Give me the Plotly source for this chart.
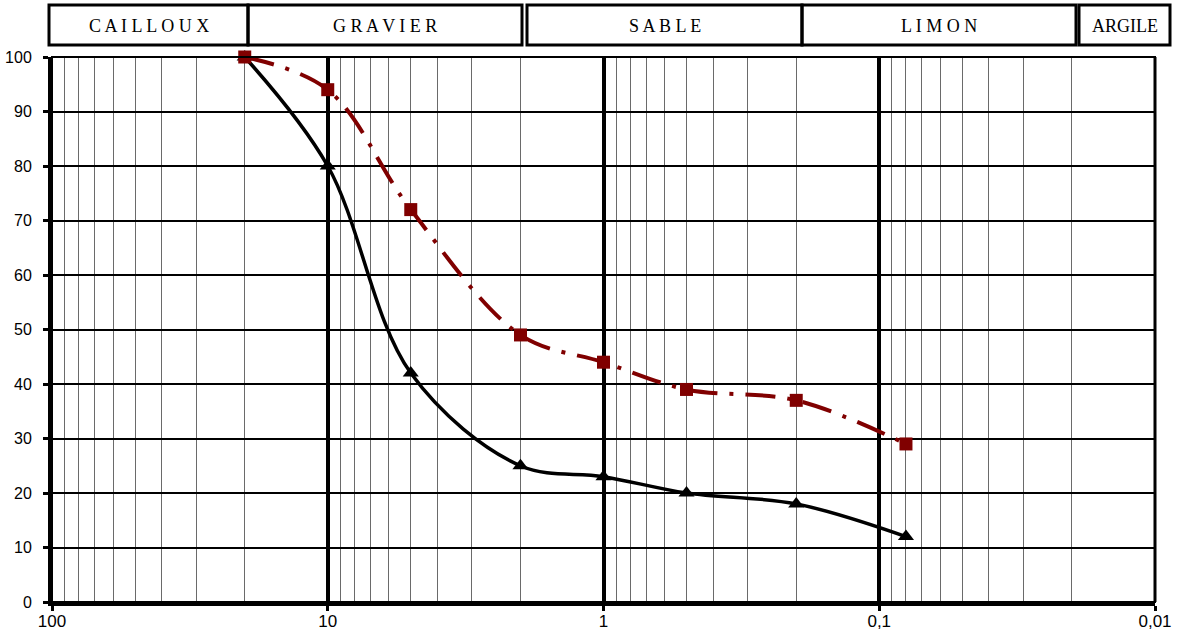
import plotly.graph_objects as go

# ---- data ----
sizes_mm = [20, 10, 5, 2, 1, 0.5, 0.2, 0.08]
passing_black = [100, 80, 42, 25, 23, 20, 18, 12]
passing_red = [100, 94, 72, 49, 44, 39, 37, 29]
major_ticks = [100, 10, 1, 0.1, 0.01]
major_labels = ["100", "10", "1", "0,1", "0,01"]
minor_ticks = [m * 10 ** k for k in (-2, -1, 0, 1) for m in range(2, 10)]
y_ticks = list(range(0, 101, 10))
classes = ["C A I L L O U X", "G R A V I E R", "S A B L E", "L I M O N", "ARGILE"]
class_px = [(49, 248), (248, 522), (527, 802), (802, 1076), (1079, 1170)]

W, H = 1177, 635
L, R, T, B = 52, 22, 57, 33
pw, ph = W - L - R, H - T - B

def px_x(p):
    return (p - L) / pw

def px_y(p):
    return (H - B - p) / ph

fig = go.Figure()

fig.add_trace(go.Scatter(
    x=sizes_mm, y=passing_black, mode="lines+markers",
    line=dict(color="black", width=3.5, shape="spline", smoothing=1),
    marker=dict(symbol="triangle-up", size=14, color="black"),
    showlegend=False, cliponaxis=False))

fig.add_trace(go.Scatter(
    x=sizes_mm, y=passing_red, mode="lines+markers",
    line=dict(color="#800000", width=4, shape="spline", smoothing=1,
              dash="30px,12px,4px,12px"),
    marker=dict(symbol="square", size=13, color="#800000"),
    showlegend=False, cliponaxis=False))

shapes = []
# plot frame
shapes.append(dict(type="rect", xref="paper", yref="paper", x0=0, x1=1, y0=0, y1=1,
                   line=dict(color="black", width=2), layer="above"))
shapes.append(dict(type="line", xref="paper", yref="paper", x0=1, x1=1, y0=0, y1=1,
                   line=dict(color="black", width=3), layer="above"))
# header boxes
for (a, b) in class_px:
    shapes.append(dict(type="rect", xref="paper", yref="paper",
                       x0=px_x(a), x1=px_x(b), y0=px_y(45), y1=px_y(5),
                       line=dict(color="black", width=3)))

annotations = []
for name, (a, b) in zip(classes, class_px):
    annotations.append(dict(xref="paper", yref="paper", x=px_x((a + b) / 2), y=px_y(26),
                            text=name, showarrow=False, xanchor="center", yanchor="middle",
                            font=dict(family="Liberation Serif", size=18, color="black")))

fig.update_layout(
    template="none",
    width=W, height=H, autosize=False,
    margin=dict(l=L, r=R, t=T, b=B, pad=0),
    paper_bgcolor="white", plot_bgcolor="white",
    shapes=shapes, annotations=annotations,
    showlegend=False,
    xaxis=dict(
        type="log", range=[2, -2], automargin=False,
        tickvals=major_ticks, ticktext=major_labels,
        showgrid=True, gridcolor="black", gridwidth=4,
        ticks="outside", ticklen=5, tickwidth=3, tickcolor="black",
        showline=True, linecolor="black", linewidth=4,
        zeroline=False,
        tickfont=dict(family="Liberation Sans", size=17, color="black"),
        ticklabelstandoff=-4,
        minor=dict(tickvals=minor_ticks, showgrid=True, gridcolor="#6a6a6a",
                   gridwidth=1, ticks=""),
    ),
    yaxis=dict(
        range=[0, 100], tickvals=y_ticks, automargin=False,
        showgrid=True, gridcolor="black", gridwidth=2,
        ticks="outside", ticklen=5, tickwidth=3, tickcolor="black",
        showline=True, linecolor="black", linewidth=4,
        zeroline=False,
        tickfont=dict(family="Liberation Sans", size=16, color="black"),
        ticklabelstandoff=8,
    ),
)

fig.write_html("out.html",
               config={"displayModeBar": False},
               post_script="document.body.style.margin='0';document.body.style.overflow='hidden';")
